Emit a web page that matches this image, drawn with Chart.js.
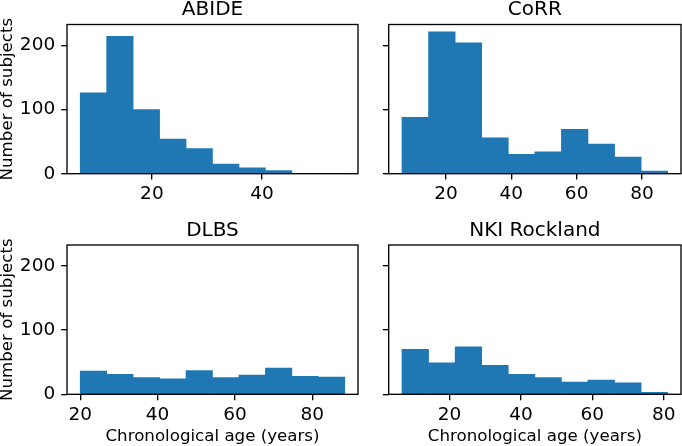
<!DOCTYPE html>
<html>
<head>
<meta charset="utf-8">
<script src="https://cdn.jsdelivr.net/npm/chart.js@4/dist/chart.umd.min.js"></script>
<style>
html,body{margin:0;padding:0;background:#fff;width:682px;height:446px;overflow:hidden;}
canvas{position:absolute;left:0;top:0;}
</style>
</head>
<body>
<canvas id="c0" width="682" height="446"></canvas>
<canvas id="c1" width="682" height="446"></canvas>
<canvas id="c2" width="682" height="446"></canvas>
<canvas id="c3" width="682" height="446"></canvas>
<script>
// ---- data ----
const panelTitles = ['ABIDE', 'CoRR', 'DLBS', 'NKI Rockland'];
const abideEdges  = [7.0, 11.8, 16.6, 21.4, 26.2, 31.0, 35.8, 40.6, 45.4, 50.2, 55.0];
const abideCounts = [126, 214, 100, 54, 39, 15, 9, 5, 0, 0];
const corrEdges   = [6.5, 14.64, 22.78, 30.92, 39.06, 47.2, 55.34, 63.48, 71.62, 79.76, 87.9];
const corrCounts  = [88, 221, 204, 56, 30, 34, 69, 46, 26, 4];
const dlbsEdges   = [20.0, 26.84, 33.68, 40.52, 47.36, 54.2, 61.04, 67.88, 74.72, 81.56, 88.4];
const dlbsCounts  = [36, 31, 26, 24, 37, 26, 30, 41, 28, 27];
const nkiEdges    = [6.7, 14.14, 21.58, 29.02, 36.46, 43.9, 51.34, 58.78, 66.22, 73.66, 81.1];
const nkiCounts   = [70, 49, 74, 45, 31, 26, 19, 22, 18, 3];
const xLimits     = [[4.6, 57.4], [2.43, 91.97], [16.58, 91.82], [2.98, 84.82]];
const xTickValues = [20, 40, 60, 80];
const yTickValues = [0, 100, 200];
const yLimit      = [0, 232.5];
const yAxisLabel  = 'Number of subjects';
const xAxisLabel  = 'Chronological age (years)';

// ---- layout / style ----
const W = 682, H = 446;
const BAR = '#1f77b4';
const LW = 1.33, TICKLEN = 5.83;
const FONT = 'DejaVu Sans';
const TICKFONT = 18.5;
Chart.defaults.font.family = FONT;
Chart.defaults.font.size = 16.67;
Chart.defaults.color = '#000';

const panels = [
  {canvas: 'c0', edges: abideEdges, counts: abideCounts, lim: xLimits[0], title: panelTitles[0],
   area: {l: 67, t: 24.5, r: 358, b: 173.7}, left: true,  bottom: false},
  {canvas: 'c1', edges: corrEdges,  counts: corrCounts,  lim: xLimits[1], title: panelTitles[1],
   area: {l: 388.7, t: 24.5, r: 681, b: 173.7}, left: false, bottom: false},
  {canvas: 'c2', edges: dlbsEdges,  counts: dlbsCounts,  lim: xLimits[2], title: panelTitles[2],
   area: {l: 67, t: 245, r: 358, b: 394.3}, left: true,  bottom: true},
  {canvas: 'c3', edges: nkiEdges,   counts: nkiCounts,   lim: xLimits[3], title: panelTitles[3],
   area: {l: 388.7, t: 245, r: 681, b: 394.3}, left: false, bottom: true},
];

const framePlugin = {
  id: 'frame',
  afterDatasetsDraw(chart) {
    const {ctx, chartArea: a} = chart;
    ctx.save();
    ctx.strokeStyle = '#000';
    ctx.lineWidth = LW;
    ctx.strokeRect(a.left, a.top, a.right - a.left, a.bottom - a.top);
    ctx.restore();
  }
};

panels.forEach(p => {
  const TITLE_LH = 16, TITLE_PT = 2, TITLE_PB = 6.5;
  const yW = p.left ? 67 : 20;
  const xH = p.bottom ? 51.7 : 30;
  const data = p.counts.map((c, i) => ({x: (p.edges[i] + p.edges[i + 1]) / 2, y: c}));
  new Chart(document.getElementById(p.canvas), {
    type: 'bar',
    data: {datasets: [{data, backgroundColor: BAR, borderWidth: 0,
      barPercentage: 1, categoryPercentage: 1}]},
    options: {
      responsive: false,
      animation: false,
      devicePixelRatio: 1,
      layout: {padding: {
        left: p.area.l - yW,
        top: p.area.t - (TITLE_LH + TITLE_PT + TITLE_PB),
        right: W - p.area.r,
        bottom: H - p.area.b - xH
      }},
      plugins: {
        legend: {display: false},
        tooltip: {enabled: false},
        title: {display: true, text: p.title, fullSize: false, color: '#000',
          font: {family: FONT, size: 20, weight: 'normal', lineHeight: TITLE_LH / 20},
          padding: {top: TITLE_PT, bottom: TITLE_PB}}
      },
      scales: {
        x: {
          type: 'linear', min: p.lim[0], max: p.lim[1], offset: false,
          afterBuildTicks: s => { s.ticks = xTickValues.filter(v => v >= p.lim[0] && v <= p.lim[1]).map(v => ({value: v})); },
          afterFit: s => { s.height = xH; },
          grid: {display: true, drawOnChartArea: false, drawTicks: true, tickLength: TICKLEN,
            color: '#000', lineWidth: LW, offset: false},
          border: {display: false},
          ticks: {padding: 3.8, maxRotation: 0, autoSkip: false, color: '#000',
            font: {family: FONT, size: TICKFONT}},
          title: {display: p.bottom, text: xAxisLabel, color: '#000',
            font: {family: FONT, size: 16.67, lineHeight: 0.9}, padding: {top: 0, bottom: 2.1}}
        },
        y: {
          type: 'linear', min: yLimit[0], max: yLimit[1],
          afterBuildTicks: s => { s.ticks = yTickValues.map(v => ({value: v})); },
          afterFit: s => { s.width = yW; },
          grid: {display: true, drawOnChartArea: false, drawTicks: true, tickLength: TICKLEN,
            color: '#000', lineWidth: LW},
          border: {display: false},
          ticks: {display: p.left, padding: 6, color: '#000', font: {family: FONT, size: TICKFONT}},
          title: {display: p.left, text: yAxisLabel, color: '#000',
            font: {family: FONT, size: 16.67, lineHeight: 0.9}, padding: {top: 0, bottom: 0}}
        }
      }
    },
    plugins: [framePlugin]
  });
});
</script>
</body>
</html>
